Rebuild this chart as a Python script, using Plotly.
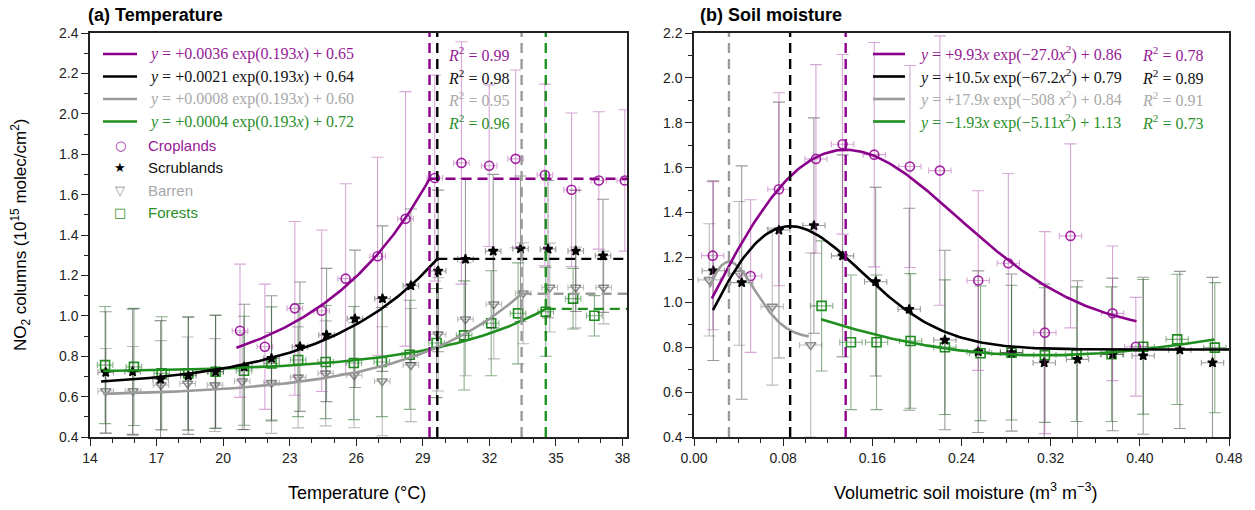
import numpy as np
import plotly.graph_objects as go

W, H = 1255, 510

# ---------------- Panel (a): NO2 vs temperature ----------------
crop_T = [20.76, 21.88, 23.23, 24.44, 25.52, 26.96, 28.22, 29.54, 30.74, 31.99, 33.18, 34.50, 35.70, 36.93, 38.10]
crop_T_no2 = [0.926, 0.847, 1.037, 1.025, 1.184, 1.295, 1.480, 1.682, 1.757, 1.743, 1.777, 1.697, 1.624, 1.670, 1.670]
crop_T_err = [0.33, 0.31, 0.43, 0.40, 0.47, 0.49, 0.63, 0.51, 0.60, 0.40, 0.44, 0.45, 0.38, 0.34, 0.35]

scrub_T = [14.71, 15.92, 17.18, 18.43, 19.66, 20.95, 22.18, 23.46, 24.66, 25.94, 27.18, 28.46, 29.69, 30.92, 32.17, 33.40, 34.64, 35.89, 37.12]
scrub_T_no2 = [0.720, 0.723, 0.686, 0.703, 0.723, 0.747, 0.789, 0.847, 0.905, 0.985, 1.085, 1.149, 1.222, 1.280, 1.320, 1.332, 1.330, 1.321, 1.297]
scrub_T_err = [0.30, 0.31, 0.29, 0.29, 0.28, 0.31, 0.31, 0.32, 0.33, 0.34, 0.36, 0.38, 0.40, 0.40, 0.38, 0.36, 0.34, 0.30, 0.28]

barren_T = [14.71, 15.94, 17.20, 18.40, 19.63, 20.86, 22.18, 23.38, 24.62, 25.90, 27.17, 28.46, 29.69, 30.92, 32.20, 33.52, 34.72, 35.89, 37.15]
barren_T_no2 = [0.628, 0.628, 0.657, 0.665, 0.657, 0.676, 0.668, 0.695, 0.715, 0.706, 0.676, 0.756, 0.908, 0.983, 1.057, 1.112, 1.140, 1.140, 1.140]
barren_T_err = [0.21, 0.22, 0.22, 0.23, 0.23, 0.24, 0.25, 0.25, 0.26, 0.26, 0.27, 0.28, 0.28, 0.28, 0.27, 0.25, 0.22, 0.20, 0.18]

forest_T = [14.68, 15.98, 17.23, 18.43, 19.66, 20.94, 22.18, 23.38, 24.62, 25.89, 27.15, 28.41, 29.62, 30.86, 32.08, 33.29, 34.54, 35.77, 36.73]
forest_T_no2 = [0.756, 0.747, 0.715, 0.715, 0.723, 0.728, 0.764, 0.781, 0.771, 0.766, 0.771, 0.807, 0.865, 0.903, 0.963, 1.012, 1.020, 1.085, 1.000]
forest_T_err = [0.29, 0.29, 0.28, 0.28, 0.28, 0.27, 0.28, 0.28, 0.28, 0.28, 0.27, 0.27, 0.27, 0.27, 0.26, 0.25, 0.22, 0.15, 0.10]

temp_xerr = 0.35

# fits: y = amp * exp(rate * T) + off, up to a breakpoint, then constant
fitA_amp = [0.0036, 0.0021, 0.0008, 0.0004]
fitA_rate = [0.193, 0.193, 0.193, 0.193]
fitA_off = [0.65, 0.64, 0.60, 0.72]
fitA_r2 = [0.99, 0.98, 0.95, 0.96]
fitA_start = [20.6, 14.5, 14.6, 14.6]
fitA_break = [29.30, 29.65, 33.45, 34.54]
fitA_label = [
    "<i>y</i> = +0.0036 exp(0.193<i>x</i>) + 0.65",
    "<i>y</i> = +0.0021 exp(0.193<i>x</i>) + 0.64",
    "<i>y</i> = +0.0008 exp(0.193<i>x</i>) + 0.60",
    "<i>y</i> = +0.0004 exp(0.193<i>x</i>) + 0.72",
]

# ---------------- Panel (b): NO2 vs soil moisture ----------------
crop_S = [0.0168, 0.0508, 0.0762, 0.1094, 0.1333, 0.1617, 0.1937, 0.2206, 0.2550, 0.2820, 0.3148, 0.3378, 0.3755, 0.3964]
crop_S_no2 = [1.208, 1.117, 1.504, 1.639, 1.704, 1.658, 1.605, 1.587, 1.097, 1.174, 0.865, 1.296, 0.951, 0.802]
crop_S_err = [0.33, 0.34, 0.43, 0.42, 0.40, 0.50, 0.45, 0.60, 0.40, 0.40, 0.45, 0.41, 0.30, 0.22]

scrub_S = [0.0173, 0.0428, 0.0762, 0.1076, 0.1333, 0.1630, 0.1931, 0.2251, 0.2550, 0.2849, 0.3142, 0.3441, 0.3755, 0.4030, 0.4359, 0.4652]
scrub_S_no2 = [1.141, 1.088, 1.322, 1.342, 1.207, 1.092, 0.969, 0.832, 0.780, 0.776, 0.731, 0.746, 0.768, 0.762, 0.788, 0.731]
scrub_S_err = [0.40, 0.52, 0.57, 0.48, 0.45, 0.42, 0.45, 0.40, 0.36, 0.35, 0.35, 0.35, 0.34, 0.35, 0.35, 0.38]

barren_S = [0.0137, 0.0406, 0.0702, 0.1047]
barren_S_no2 = [1.100, 1.129, 0.981, 0.810]
barren_S_err = [0.25, 0.32, 0.35, 0.41]

forest_S = [0.1145, 0.1408, 0.1638, 0.1943, 0.2251, 0.2571, 0.2849, 0.3148, 0.3432, 0.3746, 0.4030, 0.4335, 0.4673]
forest_S_no2 = [0.984, 0.822, 0.822, 0.828, 0.800, 0.773, 0.776, 0.765, 0.769, 0.769, 0.802, 0.835, 0.798]
forest_S_err = [0.29, 0.30, 0.30, 0.30, 0.30, 0.30, 0.30, 0.30, 0.30, 0.30, 0.30, 0.29, 0.29]

sm_xerr = 0.010

# fits: y = a * x * exp(b * x^2) + c
fitB_a = [9.93, 10.5, 17.9, -1.93]
fitB_b = [-27.0, -67.2, -508.0, -5.11]
fitB_c = [0.86, 0.79, 0.84, 1.13]
fitB_r2 = [0.78, 0.89, 0.91, 0.73]
fitB_start = [0.016, 0.017, 0.014, 0.114]
fitB_end = [0.397, 0.480, 0.103, 0.467]
fitB_label = [
    "<i>y</i> = +9.93<i>x</i> exp(\u221227.0<i>x</i><sup>2</sup>) + 0.86",
    "<i>y</i> = +10.5<i>x</i> exp(\u221267.2<i>x</i><sup>2</sup>) + 0.79",
    "<i>y</i> = +17.9<i>x</i> exp(\u2212508 <i>x</i><sup>2</sup>) + 0.84",
    "<i>y</i> = \u22121.93<i>x</i> exp(\u22125.11<i>x</i><sup>2</sup>) + 1.13",
]
peak_lines_b = [True, True, True, False]

categories = ["Croplands", "Scrublands", "Barren", "Forests"]

# ---------------- styles ----------------
line_col = ["#8B008B", "#000000", "#9A9A9A", "#1F8F1F"]
text_col = ["#951A95", "#111111", "#A8A8A8", "#2A8F2A"]
err_col = ["rgba(175,80,175,0.50)", "rgba(30,30,30,0.45)", "rgba(120,120,120,0.50)", "rgba(40,110,40,0.55)"]
mk_symbol = ["circle-open", "star", "triangle-down-open", "square-open"]
mk_color = ["#A020A0", "#000000", "#8C8C8C", "#1F8F1F"]
mk_size = [9, 7, 9, 9]
legend_glyph = ["\u25CB", "\u2605", "\u25BD", "\u25A1"]

XA = [90 / W, 627 / W]
XB = [694 / W, 1229 / W]
YD = [1 - 437 / H, 1 - 33 / H]
TA_MAX = 38.2

def px(p):
    return p / W

def py(p):
    return 1 - p / H

fig = go.Figure()

setsA = [(crop_T, crop_T_no2, crop_T_err), (scrub_T, scrub_T_no2, scrub_T_err),
         (barren_T, barren_T_no2, barren_T_err), (forest_T, forest_T_no2, forest_T_err)]
setsB = [(crop_S, crop_S_no2, crop_S_err), (scrub_S, scrub_S_no2, scrub_S_err),
         (barren_S, barren_S_no2, barren_S_err), (forest_S, forest_S_no2, forest_S_err)]

draw_order = [3, 2, 1, 0]

# points with error bars
for i in draw_order:
    xs, ys, es = setsA[i]
    fig.add_trace(go.Scatter(
        x=xs, y=ys, mode="markers", xaxis="x", yaxis="y", showlegend=False,
        marker=dict(symbol=mk_symbol[i], size=mk_size[i], color=mk_color[i], line=dict(width=1.6, color=mk_color[i])),
        error_y=dict(type="data", array=es, color=err_col[i], thickness=1.1, width=6),
        error_x=dict(type="constant", value=temp_xerr, color=err_col[i], thickness=1.1, width=3),
        cliponaxis=True))
for i in draw_order:
    xs, ys, es = setsB[i]
    fig.add_trace(go.Scatter(
        x=xs, y=ys, mode="markers", xaxis="x2", yaxis="y2", showlegend=False,
        marker=dict(symbol=mk_symbol[i], size=mk_size[i], color=mk_color[i], line=dict(width=1.6, color=mk_color[i])),
        error_y=dict(type="data", array=es, color=err_col[i], thickness=1.1, width=6),
        error_x=dict(type="constant", value=sm_xerr, color=err_col[i], thickness=1.1, width=3),
        cliponaxis=True))

# fit curves panel (a)
for i in draw_order:
    t = np.linspace(fitA_start[i], fitA_break[i], 120)
    yv = fitA_amp[i] * np.exp(fitA_rate[i] * t) + fitA_off[i]
    fig.add_trace(go.Scatter(x=t, y=yv, mode="lines", xaxis="x", yaxis="y", showlegend=False,
                             line=dict(color=line_col[i], width=2.6)))
    plateau = fitA_amp[i] * np.exp(fitA_rate[i] * fitA_break[i]) + fitA_off[i]
    fig.add_trace(go.Scatter(x=[fitA_break[i], TA_MAX], y=[plateau, plateau], mode="lines",
                             xaxis="x", yaxis="y", showlegend=False,
                             line=dict(color=line_col[i], width=2.4, dash="10px,6px")))
    fig.add_shape(type="line", xref="x", yref="y domain", x0=fitA_break[i], x1=fitA_break[i], y0=0, y1=1,
                  line=dict(color=line_col[i], width=2.4, dash="10px,6px"), layer="above")

# fit curves panel (b)
for i in draw_order:
    s = np.linspace(fitB_start[i], fitB_end[i], 200)
    yv = fitB_a[i] * s * np.exp(fitB_b[i] * s ** 2) + fitB_c[i]
    fig.add_trace(go.Scatter(x=s, y=yv, mode="lines", xaxis="x2", yaxis="y2", showlegend=False,
                             line=dict(color=line_col[i], width=2.6)))
    if peak_lines_b[i]:
        xp = 1.0 / np.sqrt(-2.0 * fitB_b[i])
        fig.add_shape(type="line", xref="x2", yref="y2 domain", x0=xp, x1=xp, y0=0, y1=1,
                      line=dict(color=line_col[i], width=2.4, dash="10px,6px"), layer="above")

ann = []
shapes_leg = []
rows_eq = [54, 76.5, 99, 121.5]
rows_mk = [145, 167.5, 190, 212.5]
SERIF = "Liberation Serif, Times New Roman, serif"
SANS = "Liberation Sans, Arial, Helvetica, sans-serif"

for i in range(4):
    # panel a legend
    shapes_leg.append(dict(type="line", xref="paper", yref="paper", x0=px(103), x1=px(137),
                           y0=py(rows_eq[i]), y1=py(rows_eq[i]), line=dict(color=line_col[i], width=2.6)))
    ann.append(dict(text=fitA_label[i], x=px(147), y=py(rows_eq[i]), xref="paper", yref="paper",
                    xanchor="left", yanchor="middle", showarrow=False,
                    font=dict(family=SERIF, size=16, color=text_col[i])))
    ann.append(dict(text="<i>R</i><sup>2</sup> = %.2f" % fitA_r2[i], x=px(446), y=py(rows_eq[i]),
                    xref="paper", yref="paper", xanchor="left", yanchor="middle", showarrow=False,
                    font=dict(family=SERIF, size=16, color=text_col[i])))
    ann.append(dict(text=legend_glyph[i], x=px(120), y=py(rows_mk[i]), xref="paper", yref="paper",
                    xanchor="center", yanchor="middle", showarrow=False,
                    font=dict(family="DejaVu Sans", size=13, color=mk_color[i])))
    ann.append(dict(text=categories[i], x=px(146), y=py(rows_mk[i]), xref="paper", yref="paper",
                    xanchor="left", yanchor="middle", showarrow=False,
                    font=dict(family=SANS, size=15, color=text_col[i])))
    # panel b legend
    shapes_leg.append(dict(type="line", xref="paper", yref="paper", x0=px(873), x1=px(905),
                           y0=py(rows_eq[i]), y1=py(rows_eq[i]), line=dict(color=line_col[i], width=2.6)))
    ann.append(dict(text=fitB_label[i], x=px(917), y=py(rows_eq[i]), xref="paper", yref="paper",
                    xanchor="left", yanchor="middle", showarrow=False,
                    font=dict(family=SERIF, size=16, color=text_col[i])))
    ann.append(dict(text="<i>R</i><sup>2</sup> = %.2f" % fitB_r2[i], x=px(1140), y=py(rows_eq[i]),
                    xref="paper", yref="paper", xanchor="left", yanchor="middle", showarrow=False,
                    font=dict(family=SERIF, size=16, color=text_col[i])))

# titles and axis titles
ann.append(dict(text="<b>(a) Temperature</b>", x=px(86), y=py(15), xref="paper", yref="paper",
                xanchor="left", yanchor="middle", showarrow=False, font=dict(family=SANS, size=18, color="#000")))
ann.append(dict(text="<b>(b) Soil moisture</b>", x=px(698), y=py(15), xref="paper", yref="paper",
                xanchor="left", yanchor="middle", showarrow=False, font=dict(family=SANS, size=18, color="#000")))
ann.append(dict(text="Temperature (\u00b0C)", x=px(357), y=py(493), xref="paper", yref="paper",
                xanchor="center", yanchor="middle", showarrow=False, font=dict(family=SANS, size=18, color="#000")))
ann.append(dict(text="Volumetric soil moisture (m<sup>3</sup> m<sup>\u22123</sup>)", x=px(965), y=py(491),
                xref="paper", yref="paper", xanchor="center", yanchor="middle", showarrow=False,
                font=dict(family=SANS, size=18, color="#000")))
ann.append(dict(text="NO<sub>2</sub> columns (10<sup>15</sup> molec/cm<sup>2</sup>)", x=px(21), y=py(235),
                xref="paper", yref="paper", xanchor="center", yanchor="middle", textangle=-90, showarrow=False,
                font=dict(family=SANS, size=17, color="#000")))

axis_common = dict(showgrid=False, zeroline=False, showline=True, linecolor="#222", linewidth=1.5,
                   mirror=True, ticks="outside", ticklen=7, tickwidth=1.2, tickcolor="#222", automargin=False,
                   tickfont=dict(family=SANS, size=14, color="#222"))

fig.update_layout(
    width=W, height=H, margin=dict(l=0, r=0, t=0, b=0, autoexpand=False),
    paper_bgcolor="white", plot_bgcolor="white", showlegend=False,
    xaxis=dict(domain=XA, range=[14, TA_MAX], tick0=14, dtick=3, anchor="y",
               minor=dict(dtick=1, tick0=14, ticklen=4, ticks="outside", tickcolor="#222"), **axis_common),
    yaxis=dict(domain=YD, range=[0.4, 2.4], tick0=0.4, dtick=0.2, tickformat=".1f", anchor="x",
               minor=dict(dtick=0.1, tick0=0.4, ticklen=4, ticks="outside", tickcolor="#222"), **axis_common),
    xaxis2=dict(domain=XB, range=[0, 0.48], tick0=0, dtick=0.08, tickformat=".2f", anchor="y2",
                minor=dict(dtick=0.02, tick0=0, ticklen=4, ticks="outside", tickcolor="#222"), **axis_common),
    yaxis2=dict(domain=YD, range=[0.4, 2.2], tick0=0.4, dtick=0.2, tickformat=".1f", anchor="x2",
                minor=dict(dtick=0.1, tick0=0.4, ticklen=4, ticks="outside", tickcolor="#222"), **axis_common),
    annotations=ann,
    shapes=list(fig.layout.shapes) + shapes_leg,
)

fig.write_html("out.html")
